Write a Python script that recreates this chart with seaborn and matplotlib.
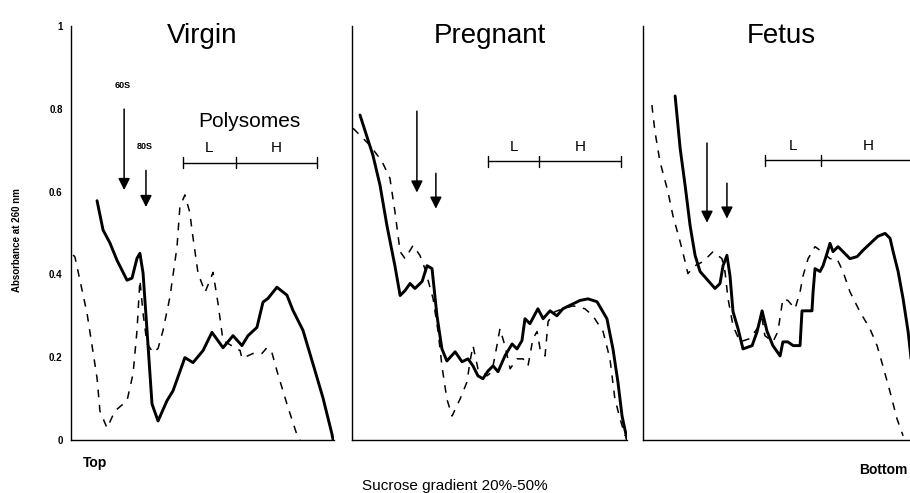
import pandas as pd
import numpy as np
import matplotlib
matplotlib.use("Agg")
import matplotlib.pyplot as plt
import seaborn as sns

sns.set_style("white")
plt.rcParams['font.family'] = ['Liberation Sans', 'DejaVu Sans']
plt.rcParams['text.color'] = 'black'
plt.rcParams['ytick.color'] = 'black'

# gradient position (0 = top, 1 = bottom) and absorbance at 260 nm
virgin_solid_x = [0.099, 0.122, 0.148, 0.175, 0.213, 0.232, 0.251, 0.262, 0.274, 0.289, 0.308, 0.331,
                  0.365, 0.388, 0.433, 0.464, 0.502, 0.536, 0.578, 0.616, 0.650, 0.673, 0.707, 0.730,
                  0.749, 0.783, 0.821, 0.844, 0.882, 0.920, 0.958, 0.992, 0.996]
virgin_solid_y = [0.578, 0.507, 0.476, 0.434, 0.386, 0.391, 0.439, 0.451, 0.403, 0.265, 0.087, 0.046,
                  0.095, 0.119, 0.199, 0.187, 0.216, 0.260, 0.223, 0.252, 0.228, 0.252, 0.272, 0.333,
                  0.342, 0.369, 0.350, 0.313, 0.265, 0.184, 0.102, 0.015, 0.002]
virgin_dash_x = [0.008, 0.015, 0.061, 0.099, 0.110, 0.137, 0.167, 0.213, 0.236, 0.251, 0.262, 0.274,
                 0.289, 0.312, 0.331, 0.350, 0.376, 0.403, 0.414, 0.433, 0.452, 0.460, 0.483, 0.510,
                 0.540, 0.559, 0.578, 0.643, 0.650, 0.692, 0.726, 0.745, 0.764, 0.783, 0.821, 0.863, 0.871]
virgin_dash_y = [0.447, 0.442, 0.306, 0.150, 0.070, 0.029, 0.070, 0.095, 0.160, 0.265, 0.386, 0.306,
                 0.233, 0.211, 0.221, 0.265, 0.345, 0.466, 0.563, 0.592, 0.549, 0.507, 0.403, 0.357,
                 0.405, 0.330, 0.240, 0.216, 0.197, 0.209, 0.209, 0.223, 0.211, 0.167, 0.087, 0.005, 0.0]

pregnant_solid_x = [0.029, 0.076, 0.102, 0.127, 0.156, 0.175, 0.193, 0.211, 0.229, 0.255, 0.273, 0.291,
                    0.309, 0.327, 0.345, 0.375, 0.400, 0.422, 0.440, 0.458, 0.476, 0.495, 0.513, 0.531,
                    0.556, 0.582, 0.600, 0.618, 0.629, 0.647, 0.676, 0.695, 0.720, 0.745, 0.767, 0.804,
                    0.829, 0.858, 0.891, 0.927, 0.949, 0.967, 0.982, 1.0]
pregnant_solid_y = [0.785, 0.688, 0.615, 0.518, 0.421, 0.349, 0.361, 0.378, 0.366, 0.383, 0.421, 0.414,
                    0.300, 0.220, 0.191, 0.213, 0.189, 0.196, 0.179, 0.155, 0.148, 0.167, 0.179, 0.165,
                    0.203, 0.232, 0.220, 0.240, 0.293, 0.281, 0.317, 0.293, 0.312, 0.300, 0.317, 0.329,
                    0.337, 0.341, 0.334, 0.293, 0.220, 0.140, 0.058, 0.002]
pregnant_dash_x = [0.004, 0.065, 0.109, 0.138, 0.156, 0.175, 0.193, 0.222, 0.247, 0.265, 0.295, 0.313,
                   0.327, 0.345, 0.364, 0.393, 0.418, 0.429, 0.440, 0.458, 0.491, 0.509, 0.527, 0.538,
                   0.556, 0.575, 0.600, 0.622, 0.640, 0.658, 0.673, 0.684, 0.702, 0.713, 0.738, 0.767,
                   0.804, 0.847, 0.876, 0.913, 0.938, 0.956, 0.975, 0.993]
pregnant_dash_y = [0.753, 0.712, 0.673, 0.632, 0.552, 0.455, 0.438, 0.470, 0.446, 0.414, 0.341, 0.262,
                   0.179, 0.099, 0.058, 0.099, 0.140, 0.189, 0.228, 0.172, 0.155, 0.165, 0.228, 0.269,
                   0.228, 0.172, 0.196, 0.196, 0.179, 0.245, 0.262, 0.220, 0.203, 0.286, 0.310, 0.317,
                   0.324, 0.317, 0.300, 0.262, 0.196, 0.099, 0.051, 0.010]

fetus_solid_x = [0.116, 0.134, 0.152, 0.170, 0.188, 0.206, 0.235, 0.260, 0.278, 0.289, 0.303, 0.314,
                 0.325, 0.343, 0.361, 0.394, 0.412, 0.430, 0.448, 0.469, 0.495, 0.505, 0.523, 0.542,
                 0.567, 0.574, 0.610, 0.614, 0.621, 0.639, 0.650, 0.664, 0.675, 0.686, 0.704, 0.722,
                 0.747, 0.773, 0.794, 0.827, 0.848, 0.874, 0.892, 0.903, 0.921, 0.939, 0.957, 0.964,
                 0.982, 1.0]
fetus_solid_y = [0.831, 0.705, 0.615, 0.518, 0.446, 0.407, 0.385, 0.366, 0.378, 0.421, 0.446, 0.397,
                 0.310, 0.269, 0.220, 0.228, 0.262, 0.312, 0.262, 0.228, 0.203, 0.237, 0.237, 0.228,
                 0.228, 0.312, 0.312, 0.358, 0.414, 0.407, 0.421, 0.450, 0.475, 0.455, 0.467, 0.455,
                 0.438, 0.443, 0.458, 0.479, 0.492, 0.499, 0.487, 0.455, 0.407, 0.341, 0.262, 0.220,
                 0.099, 0.007]
fetus_dash_x = [0.032, 0.043, 0.061, 0.090, 0.108, 0.134, 0.152, 0.162, 0.188, 0.217, 0.253, 0.285,
                0.296, 0.307, 0.325, 0.350, 0.386, 0.412, 0.430, 0.440, 0.469, 0.487, 0.505, 0.523,
                0.549, 0.567, 0.578, 0.596, 0.621, 0.646, 0.675, 0.700, 0.722, 0.747, 0.783, 0.819,
                0.845, 0.866, 0.892, 0.917, 0.939]
fetus_dash_y = [0.809, 0.746, 0.673, 0.600, 0.542, 0.479, 0.431, 0.402, 0.421, 0.431, 0.455, 0.438,
                0.407, 0.341, 0.276, 0.237, 0.245, 0.269, 0.293, 0.252, 0.237, 0.262, 0.341, 0.337,
                0.317, 0.358, 0.397, 0.438, 0.467, 0.455, 0.438, 0.438, 0.407, 0.358, 0.310, 0.269,
                0.228, 0.179, 0.116, 0.051, 0.010]

titles = ["Virgin", "Pregnant", "Fetus"]
# arrows: x position, tail value, tip value (two arrows per panel)
arrow_x = [[0.202, 0.285], [0.236, 0.305], [0.231, 0.303]]
arrow_tail = [[0.806, 0.658], [0.801, 0.651], [0.724, 0.627]]
arrow_tip = [[0.597, 0.556], [0.591, 0.552], [0.518, 0.528]]
arrow_labels = ["60S", "80S"]
# polysome brackets: start, L/H split, end, height
bracket_x = [[0.426, 0.627, 0.935], [0.495, 0.680, 0.978], [0.440, 0.643, 0.980]]
bracket_y = [0.670, 0.673, 0.676]
yticks = [0, 0.2, 0.4, 0.6, 0.8, 1]
ytick_labels = ["0", "0.2", "0.4", "0.6", "0.8", "1"]

curves = [(virgin_solid_x, virgin_solid_y, virgin_dash_x, virgin_dash_y),
          (pregnant_solid_x, pregnant_solid_y, pregnant_dash_x, pregnant_dash_y),
          (fetus_solid_x, fetus_solid_y, fetus_dash_x, fetus_dash_y)]

W, H = 910, 493
fig = plt.figure(figsize=(W / 100, H / 100), dpi=100)
panels_px = [(71, 263), (352, 275), (643, 277)]
bottom = (H - 440) / H
height = 414 / H

for i, (sx, sy, dx, dy) in enumerate(curves):
    left, width = panels_px[i]
    ax = fig.add_axes([left / W, bottom, width / W, height])
    solid = pd.DataFrame({"x": sx, "y": sy})
    dash = pd.DataFrame({"x": dx, "y": dy})
    sns.lineplot(data=solid, x="x", y="y", ax=ax, color="black", lw=2.1, sort=False)
    sns.lineplot(data=dash, x="x", y="y", ax=ax, color="black", lw=1.1, sort=False,
                 dashes=False, linestyle=(0, (5, 5)))
    ax.set_xlim(0, 1)
    ax.set_ylim(0, 1)
    ax.set_xlabel("")
    ax.set_ylabel("")
    ax.set_facecolor("white")
    for s in ["top", "right"]:
        ax.spines[s].set_visible(False)
    for s in ["left", "bottom"]:
        ax.spines[s].set_color("black")
        ax.spines[s].set_linewidth(1.0)
    ax.set_xticks([])
    if i == 0:
        ax.set_yticks(yticks)
        ax.set_yticklabels(ytick_labels, fontsize=7, fontweight="bold")
        ax.tick_params(axis="y", length=0, pad=6)
    else:
        ax.set_yticks([])

    ax.text(0.5, 0.975, titles[i], fontsize=20, ha="center", va="center", transform=ax.transAxes)

    for k in range(2):
        ax.annotate("", xy=(arrow_x[i][k], arrow_tip[i][k]), xytext=(arrow_x[i][k], arrow_tail[i][k]),
                    arrowprops=dict(arrowstyle="-|>,head_length=0.7,head_width=0.35", color="black",
                                    lw=1.1, mutation_scale=10))
        if i == 0:
            ax.text(arrow_x[i][k] - 0.005, arrow_tail[i][k] + 0.05, arrow_labels[k], fontsize=6.5,
                    fontweight="bold", ha="center", va="center")

    b0, bm, b1 = bracket_x[i]
    by = bracket_y[i]
    ax.plot([b0, b1], [by, by], color="black", lw=1.0, clip_on=False)
    for bx in (b0, bm, b1):
        ax.plot([bx, bx], [by - 0.013, by + 0.013], color="black", lw=1.0, clip_on=False)
    ax.text((b0 + bm) / 2, by + 0.035, "L", fontsize=11, ha="center", va="center")
    ax.text((bm + b1) / 2, by + 0.035, "H", fontsize=11, ha="center", va="center")
    if i == 0:
        ax.text(0.68, 0.77, "Polysomes", fontsize=15, ha="center", va="center")

fig.text(17 / W, 1 - 240 / H, "Absorbance at 260 nm", rotation=90, fontsize=7, fontweight="bold",
         ha="center", va="center")
fig.text(95 / W, 1 - 463 / H, "Top", fontsize=10, fontweight="bold", ha="center", va="center")
fig.text(908 / W, 1 - 470 / H, "Bottom", fontsize=10, fontweight="bold", ha="right", va="center")
fig.text(455 / W, 1 - 486 / H, "Sucrose gradient 20%-50%", fontsize=11, ha="center", va="center")

fig.savefig("out.png", dpi=100, facecolor="white")
